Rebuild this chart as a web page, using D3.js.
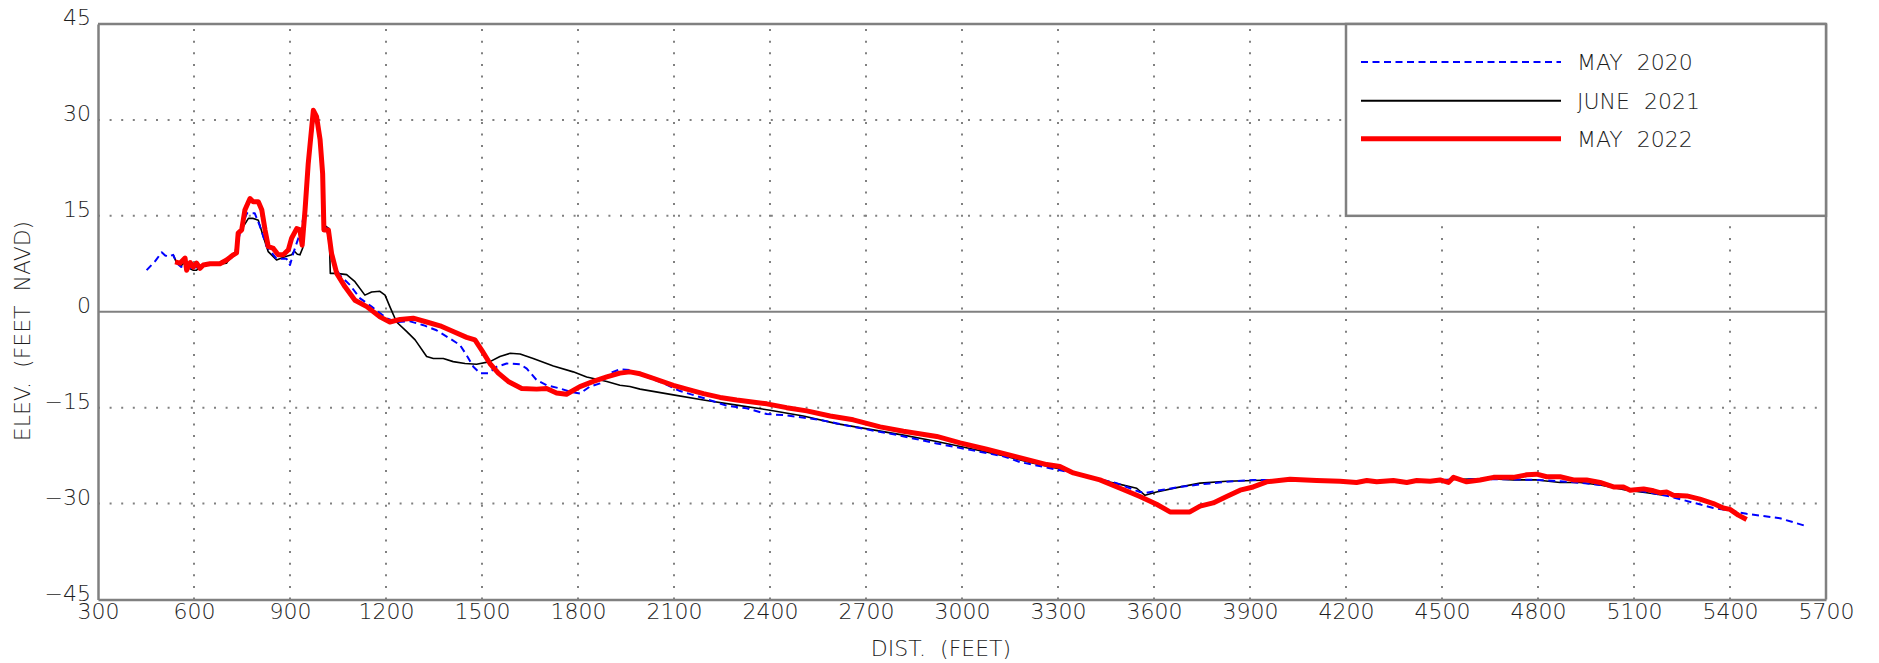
<!DOCTYPE html>
<html>
<head>
<meta charset="utf-8">
<script src="https://cdn.jsdelivr.net/npm/d3@7/dist/d3.min.js"></script>
<style>
  html, body { margin: 0; padding: 0; background: #fff; }
  svg text { font-family: "DejaVu Sans", sans-serif; font-weight: 200; fill: #1e1e1e; }
</style>
</head>
<body>
<svg id="chart" width="1879" height="663"></svg>
<script>
// ---- data ----
const xTicks = [300, 600, 900, 1200, 1500, 1800, 2100, 2400, 2700, 3000, 3300, 3600, 3900, 4200, 4500, 4800, 5100, 5400, 5700];
const yTicks = [-45, -30, -15, 0, 15, 30, 45];
const seriesNames = ["MAY  2020", "JUNE  2021", "MAY  2022"];

const may2020 = [[452,6.5],[480,8.0],[499,9.3],[510,8.8],[520,8.6],[535,8.9],[546,7.6],[560,7.0],[575,7.5],[590,6.8],[600,6.7],[615,7.2],[640,7.3],[670,7.4],[700,7.8],[718,8.5],[730,9.2],[738,11.2],[750,13.5],[765,15.4],[790,15.4],[805,13.5],[827,10.2],[858,8.3],[889,8.3],[900,7.3],[910,9.1],[926,11.5],[935,12.5],[945,16],[958,24],[973,30.5],[984,29.8],[994,26.5],[1002,21],[1008,14],[1015,13.0],[1035,7.6],[1056,5.7],[1087,4.2],[1119,2.1],[1155,0.8],[1202,-1.0],[1233,-1.6],[1275,-1.5],[1317,-2.1],[1358,-2.9],[1400,-4.2],[1431,-5.2],[1452,-6.8],[1473,-8.6],[1494,-9.6],[1520,-9.6],[1546,-8.6],[1577,-8.1],[1619,-8.2],[1640,-8.9],[1671,-10.7],[1702,-11.5],[1744,-12.0],[1775,-12.5],[1806,-12.8],[1837,-11.7],[1869,-11.2],[1900,-9.6],[1931,-9.0],[1962,-9.1],[2015,-10.2],[2067,-11.2],[2119,-12.4],[2192,-13.5],[2265,-14.7],[2327,-15.1],[2390,-16.0],[2452,-16.2],[2556,-16.9],[2660,-18.0],[2800,-19.3],[2921,-20.6],[3025,-21.6],[3129,-22.6],[3181,-23.5],[3327,-25.0],[3483,-26.8],[3556,-28.2],[3577,-28.3],[3608,-28.0],[3681,-27.4],[3744,-27.0],[3848,-26.5],[3910,-26.3],[4000,-26.3],[4100,-26.4],[4200,-26.5],[4300,-26.5],[4400,-26.5],[4500,-26.3],[4600,-26.2],[4700,-26.2],[4800,-26.3],[4900,-26.6],[5000,-27.1],[5080,-27.8],[5140,-28.2],[5213,-28.9],[5296,-30.0],[5348,-30.7],[5400,-31.1],[5452,-31.6],[5556,-32.3],[5637,-33.5]];

const june2021 = [[535,8.9],[546,7.6],[560,7.2],[572,7.8],[585,6.8],[598,6.5],[608,6.5],[620,7.2],[640,7.3],[670,7.4],[702,7.6],[718,8.9],[728,9.0],[738,12.5],[754,13.3],[770,14.6],[785,14.6],[801,14.3],[817,11.7],[832,9.4],[858,8.1],[884,8.6],[905,8.9],[913,9.5],[923,9.0],[931,8.9],[940,10.0],[950,16],[960,24],[975,30.3],[985,29.8],[995,26.5],[1003,21],[1008,13.5],[1022,13.0],[1026,6.0],[1046,6.0],[1077,5.8],[1103,4.7],[1134,2.6],[1155,3.1],[1181,3.2],[1197,2.6],[1212,0.8],[1233,-1.6],[1265,-3.1],[1291,-4.4],[1327,-7.0],[1348,-7.3],[1379,-7.3],[1410,-7.8],[1447,-8.1],[1483,-8.2],[1525,-7.8],[1556,-7.0],[1588,-6.5],[1619,-6.6],[1660,-7.3],[1723,-8.5],[1785,-9.4],[1827,-10.2],[1890,-10.9],[1931,-11.5],[1962,-11.7],[1994,-12.1],[2098,-13.0],[2192,-13.8],[2296,-14.6],[2400,-15.4],[2504,-16.3],[2608,-17.5],[2713,-18.4],[2817,-19.3],[2921,-20.3],[3025,-21.4],[3129,-22.5],[3223,-23.7],[3306,-24.6],[3369,-25.5],[3431,-26.3],[3494,-27.0],[3546,-27.6],[3572,-28.7],[3608,-28.2],[3671,-27.5],[3744,-26.8],[3827,-26.5],[3910,-26.4],[3980,-26.3],[4050,-26.3],[4150,-26.5],[4250,-26.6],[4350,-26.5],[4450,-26.4],[4556,-26.2],[4650,-26.1],[4723,-26.3],[4796,-26.3],[4869,-26.7],[4931,-26.7],[4994,-27.1],[5077,-27.9],[5140,-28.3],[5192,-28.7]];

const may2022 = [[541,7.8],[556,7.6],[572,8.4],[577,6.5],[588,7.7],[598,7.0],[608,7.6],[619,6.8],[629,7.3],[650,7.5],[681,7.5],[702,8.1],[723,8.9],[733,9.2],[738,12.3],[749,12.8],[759,15.9],[775,17.7],[785,17.2],[801,17.2],[812,15.9],[822,12.8],[832,10.2],[848,9.9],[863,8.9],[879,8.9],[895,9.7],[905,11.5],[921,13.0],[931,12.8],[938,10.4],[947,15.9],[957,23.2],[973,31.5],[983,30.5],[994,26.9],[1002,21.6],[1006,12.8],[1020,12.8],[1030,9.1],[1046,6.0],[1072,3.9],[1103,1.8],[1140,0.8],[1181,-0.8],[1212,-1.6],[1244,-1.2],[1285,-1.0],[1327,-1.6],[1369,-2.2],[1410,-3.1],[1452,-4.0],[1478,-4.4],[1499,-6.0],[1525,-8.1],[1551,-9.6],[1582,-10.9],[1624,-12.0],[1671,-12.1],[1702,-12.0],[1733,-12.7],[1764,-12.9],[1806,-11.7],[1848,-10.9],[1890,-10.2],[1931,-9.6],[1962,-9.4],[1994,-9.7],[2035,-10.4],[2098,-11.5],[2140,-12.1],[2192,-12.8],[2244,-13.4],[2296,-13.8],[2390,-14.4],[2452,-15.0],[2515,-15.5],[2588,-16.3],[2660,-16.9],[2744,-18.0],[2817,-18.7],[2921,-19.5],[2994,-20.5],[3077,-21.5],[3171,-22.7],[3265,-23.9],[3306,-24.2],[3348,-25.2],[3431,-26.3],[3494,-27.6],[3556,-28.9],[3608,-30.1],[3650,-31.3],[3712,-31.3],[3744,-30.4],[3785,-29.9],[3827,-28.9],[3869,-27.9],[3910,-27.4],[3952,-26.6],[4025,-26.2],[4108,-26.4],[4181,-26.5],[4233,-26.7],[4265,-26.4],[4296,-26.6],[4348,-26.4],[4390,-26.7],[4421,-26.4],[4463,-26.5],[4494,-26.3],[4520,-26.7],[4536,-25.9],[4577,-26.6],[4619,-26.3],[4661,-25.9],[4723,-25.9],[4765,-25.5],[4796,-25.4],[4827,-25.8],[4869,-25.8],[4911,-26.3],[4952,-26.3],[4994,-26.7],[5036,-27.4],[5067,-27.4],[5088,-27.9],[5130,-27.7],[5161,-28.0],[5181,-28.3],[5202,-28.2],[5223,-28.7],[5265,-28.8],[5306,-29.3],[5348,-30.0],[5379,-30.7],[5400,-30.9],[5426,-31.8],[5452,-32.5]];

// ---- layout ----
const svg = d3.select("#chart");
const L = 98, R = 1826, T = 24, B = 599.5;
const gray = "#808080";
const textColor = "#1e1e1e";

const x = d3.scaleLinear().domain([300, 5700]).range([L, R]);
const y = d3.scaleLinear().domain([-45, 45]).range([B, T]);

svg.append("rect").attr("width", 1879).attr("height", 663).attr("fill", "#fff");

// gridlines (dotted)
const grid = svg.append("g");
grid.selectAll("line.v").data(xTicks.slice(1, -1)).join("line")
  .attr("x1", d => x(d)).attr("x2", d => x(d)).attr("y1", B).attr("y2", T)
  .attr("stroke", gray).attr("stroke-width", 2).attr("stroke-dasharray", "2 9.6");
grid.selectAll("line.h").data(yTicks.filter(d => d !== 0 && Math.abs(d) !== 45)).join("line")
  .attr("x1", L).attr("x2", R).attr("y1", d => y(d)).attr("y2", d => y(d))
  .attr("stroke", gray).attr("stroke-width", 2).attr("stroke-dasharray", "2 9.6");

// zero line
svg.append("line").attr("x1", L).attr("x2", R).attr("y1", y(0)).attr("y2", y(0))
  .attr("stroke", gray).attr("stroke-width", 2);

// axes via d3
const xAxis = svg.append("g").attr("transform", `translate(0,${B})`)
  .call(d3.axisBottom(x).tickValues(xTicks).tickSize(0).tickPadding(19).tickFormat(d3.format("d")));
xAxis.select(".domain").attr("stroke", gray).attr("stroke-width", 2.5);
xAxis.selectAll("text").attr("font-size", 22).attr("dy", 0).attr("y", 19.5)
  .style("font-family", "DejaVu Sans").style("font-weight", 200).attr("fill", textColor);

const yAxis = svg.append("g").attr("transform", `translate(${L},0)`)
  .call(d3.axisLeft(y).tickValues(yTicks).tickSize(0).tickPadding(7).tickFormat(d3.format("d")));
yAxis.select(".domain").attr("stroke", gray).attr("stroke-width", 2.5);
yAxis.selectAll("text").attr("font-size", 22).attr("dy", 0.5).attr("x", -7)
  .style("font-family", "DejaVu Sans").style("font-weight", 200).attr("fill", textColor);

// top and right frame
svg.append("line").attr("x1", L).attr("x2", R).attr("y1", T).attr("y2", T).attr("stroke", gray).attr("stroke-width", 2.5);
svg.append("line").attr("x1", R).attr("x2", R).attr("y1", T).attr("y2", B).attr("stroke", gray).attr("stroke-width", 2.5);

// axis titles
svg.append("text").attr("x", 941).attr("y", 656).attr("text-anchor", "middle")
  .attr("font-size", 22).style("white-space", "pre").text("DIST.  (FEET)");
svg.append("text").attr("transform", "translate(30,331) rotate(-90)").attr("text-anchor", "middle")
  .attr("font-size", 22).style("white-space", "pre").text("ELEV.  (FEET  NAVD)");

// series
const line = d3.line().x(d => x(d[0])).y(d => y(d[1]));
const styles = [
  { data: june2021, color: "#000000", width: 1.6, dash: null },
  { data: may2020, color: "#0000ff", width: 2, dash: "7 4.5" },
  { data: may2022, color: "#ff0000", width: 5, dash: null }
];
svg.append("g").selectAll("path").data(styles).join("path")
  .attr("d", d => line(d.data)).attr("fill", "none")
  .attr("stroke", d => d.color).attr("stroke-width", d => d.width)
  .attr("stroke-dasharray", d => d.dash).attr("stroke-linejoin", "round");

// legend
const legX = 1346, legY = T, legW = R - 1346, legH = y(15) - T;
svg.append("rect").attr("x", legX).attr("y", legY).attr("width", legW).attr("height", legH)
  .attr("fill", "#fff").attr("stroke", gray).attr("stroke-width", 2.5);
const legItems = [
  { name: seriesNames[0], color: "#0000ff", width: 2, dash: "7 4.5", y: 62 },
  { name: seriesNames[1], color: "#000000", width: 2, dash: null, y: 100.7 },
  { name: seriesNames[2], color: "#ff0000", width: 5, dash: null, y: 138.7 }
];
const lg = svg.append("g").selectAll("g").data(legItems).join("g");
lg.append("line").attr("x1", 1361).attr("x2", 1561).attr("y1", d => d.y).attr("y2", d => d.y)
  .attr("stroke", d => d.color).attr("stroke-width", d => d.width).attr("stroke-dasharray", d => d.dash);
lg.append("text").attr("x", 1577).attr("y", d => d.y + 8).attr("font-size", 22)
  .style("white-space", "pre").text(d => d.name);
</script>
</body>
</html>
